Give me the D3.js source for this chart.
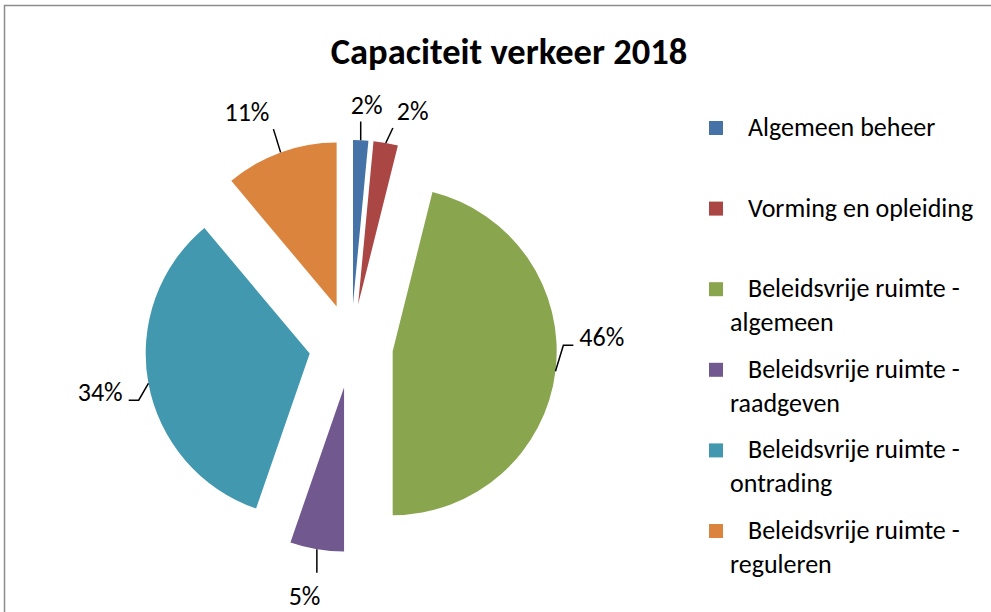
<!DOCTYPE html>
<html>
<head>
<meta charset="utf-8">
<script src="https://cdn.jsdelivr.net/npm/d3@7"></script>
<style>
  html, body { margin: 0; padding: 0; background: #fff; }
  svg { display: block; }
  text { font-family: Carlito, Lato, "Open Sans", sans-serif; fill: #000; }
</style>
</head>
<body>
<svg id="chart" width="991" height="612"></svg>
<script>
// data (percent of total)
var categories = [
  "Algemeen beheer",
  "Vorming en opleiding",
  "Beleidsvrije ruimte - algemeen",
  "Beleidsvrije ruimte - raadgeven",
  "Beleidsvrije ruimte - ontrading",
  "Beleidsvrije ruimte - reguleren"
];
var values = [1.5, 2.4, 46.1, 5.3, 33.6, 11.1];
var pctLabels = ["2%", "2%", "46%", "5%", "34%", "11%"];
var colors = ["#4572A7", "#AA4643", "#89A54E", "#71588F", "#4198AF", "#DB843D"];
var title = "Capaciteit verkeer 2018";

// layout
var cx = 351, cy = 346, radius = 164, explode = 42;
var labelRadius = [242, 243, 251, 254, 255, 256];
var labelNudge = [1, 5, -9, 1, 0, -4]; // degrees, best-fit shifts

var svg = d3.select("#chart");

// chart border (right and bottom run off the picture)
svg.append("rect")
  .attr("x", 4.5).attr("y", 5.5)
  .attr("width", 1100).attr("height", 800)
  .attr("fill", "none")
  .attr("stroke", "#8c8c8c")
  .attr("stroke-width", 1.5);

// title
svg.append("text")
  .attr("x", 509).attr("y", 64)
  .attr("text-anchor", "middle")
  .style("font-size", "36.5px")
  .style("font-weight", "bold")
  .text(title);

var pie = d3.pie().sort(null).value(function(d) { return d; });
var arcs = pie(values);
var arc = d3.arc().innerRadius(0).outerRadius(radius);

function dir(a) { return [Math.sin(a), -Math.cos(a)]; }

var g = svg.append("g").attr("transform", "translate(" + cx + "," + cy + ")");

// exploded slices
g.selectAll("path.slice")
  .data(arcs)
  .enter().append("path")
    .attr("class", "slice")
    .attr("fill", function(d, i) { return colors[i]; })
    .attr("transform", function(d) {
      var m = dir((d.startAngle + d.endAngle) / 2);
      return "translate(" + (m[0] * explode) + "," + (m[1] * explode) + ")";
    })
    .attr("d", arc);

// data labels
var labels = g.selectAll("text.lbl")
  .data(arcs)
  .enter().append("text")
    .attr("class", "lbl")
    .attr("text-anchor", "middle")
    .style("font-size", "26px")
    .attr("x", function(d, i) {
      var a = (d.startAngle + d.endAngle) / 2 + labelNudge[i] * Math.PI / 180;
      return dir(a)[0] * labelRadius[i];
    })
    .attr("y", function(d, i) {
      var a = (d.startAngle + d.endAngle) / 2 + labelNudge[i] * Math.PI / 180;
      return dir(a)[1] * labelRadius[i] + 9;
    })
    .text(function(d, i) { return pctLabels[i]; });

// leader lines
labels.each(function(d, i) {
  var bb = this.getBBox();
  var mid = (d.startAngle + d.endAngle) / 2;
  var m = dir(mid);
  var p0 = [m[0] * (radius + explode), m[1] * (radius + explode)];
  var base = +d3.select(this).attr("y");
  var pts;
  if (Math.abs(m[0]) > 0.8) {
    var side = m[0] > 0 ? -1 : 1;
    var edge = m[0] > 0 ? bb.x - 6 : bb.x + bb.width + 6;
    pts = [p0, [edge + side * 10, base - 1], [edge, base - 1]];
  } else {
    var ex = Math.max(bb.x - 4, Math.min(bb.x + bb.width + 4, p0[0]));
    var ey = p0[1] > base ? base + 8 : base - 32;
    pts = [p0, [ex, ey]];
  }
  g.append("path")
    .attr("d", d3.line()(pts))
    .attr("fill", "none")
    .attr("stroke", "#000")
    .attr("stroke-width", 1.5);
});

// legend
var ly = d3.scaleLinear().domain([0, categories.length - 1]).range([128, 531]);
var leg = svg.append("g").selectAll("g")
  .data(categories)
  .enter().append("g")
    .attr("transform", function(d, i) { return "translate(709," + ly(i) + ")"; });

leg.append("rect")
  .attr("x", 0).attr("y", -7)
  .attr("width", 14).attr("height", 14)
  .attr("fill", function(d, i) { return colors[i]; });

leg.each(function(d) {
  var parts = d.split(" - ");
  var lines = parts.length > 1 ? [parts[0] + " -", parts[1]] : [d];
  var sel = d3.select(this);
  lines.forEach(function(t, j) {
    sel.append("text")
      .attr("x", j === 0 ? 39 : 21)
      .attr("y", 8 + j * 34)
      .style("font-size", "26px")
      .text(t);
  });
});
</script>
</body>
</html>
